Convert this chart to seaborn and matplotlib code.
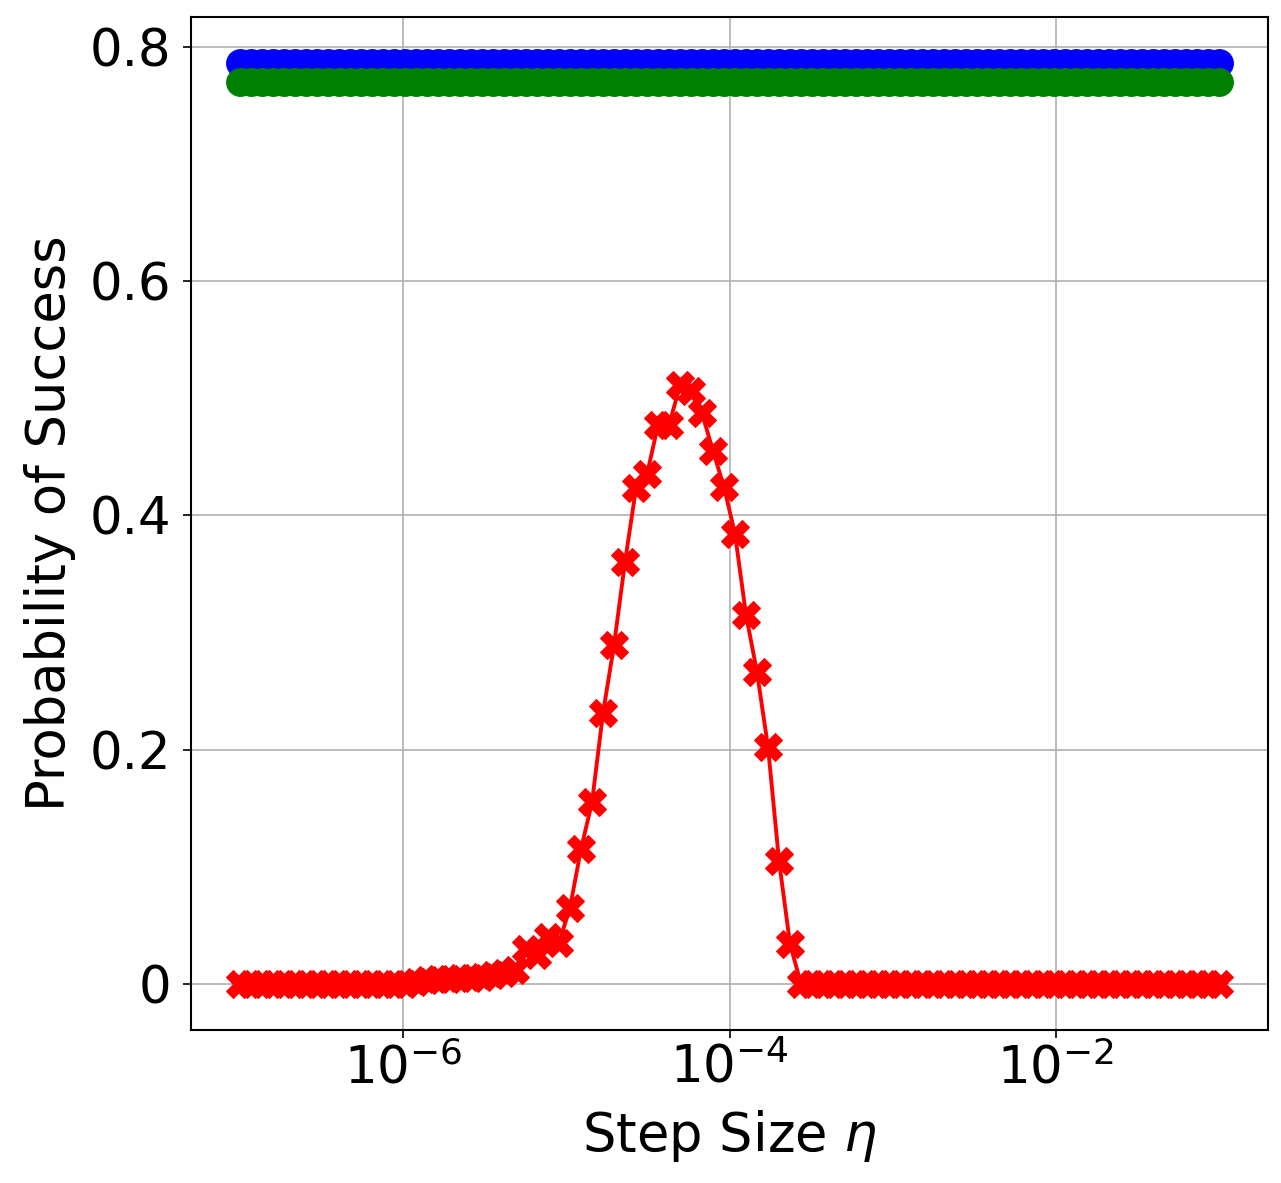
import numpy as np
import matplotlib
matplotlib.use("Agg")
import matplotlib.pyplot as plt
import matplotlib.ticker as mticker
import seaborn as sns

# step sizes: 90 points, log-spaced from 1e-7 to 1e-1
step_size = np.logspace(-7, -1, 90)

# constant success rates of the two reference methods
blue_rate = 0.786
green_rate = 0.770

# success probability vs step size (red curve)
red_rate = [0.0] * 16 + [
    0.002, 0.003, 0.004, 0.004, 0.005, 0.005, 0.006, 0.008, 0.009,
    0.012, 0.030, 0.025, 0.040, 0.035, 0.065, 0.115, 0.155, 0.231,
    0.289, 0.360, 0.423, 0.435, 0.477, 0.477, 0.511, 0.506, 0.487,
    0.455, 0.424, 0.384, 0.315, 0.266, 0.202, 0.105, 0.034,
] + [0.0] * 39

y_ticks = [0, 0.2, 0.4, 0.6, 0.8]
y_labels = ["0", "0.2", "0.4", "0.6", "0.8"]
x_ticks = [1e-6, 1e-4, 1e-2]

fig = plt.figure(figsize=(12.81, 11.83), dpi=100)
ax = fig.add_axes([0.149, 0.1293, 0.841, 0.8563])

sns.lineplot(x=step_size, y=[blue_rate] * len(step_size), ax=ax, color="blue",
             marker="o", markersize=20, markeredgecolor="blue",
             linestyle="", linewidth=0)
sns.lineplot(x=step_size, y=[green_rate] * len(step_size), ax=ax, color="green",
             marker="o", markersize=20, markeredgecolor="green",
             linestyle="", linewidth=0)
sns.lineplot(x=step_size, y=red_rate, ax=ax, color="red", marker="X",
             markersize=20, markeredgecolor="red", linewidth=2.8)

ax.set_xscale("log")
ax.set_xticks(x_ticks)
ax.xaxis.set_minor_locator(mticker.NullLocator())
ax.set_yticks(y_ticks)
ax.set_yticklabels(y_labels)
ax.tick_params(labelsize=37, length=6, width=1.2)
ax.tick_params(axis="y", pad=8)
ax.grid(True, color="#b0b0b0", linewidth=1.2)
for sp in ax.spines.values():
    sp.set_linewidth(1.5)

ax.set_xlabel(r"Step Size $\eta$", fontsize=38, labelpad=10)
ax.set_ylabel("Probability of Success", fontsize=38, labelpad=10)

fig.savefig("out.png", dpi=100)
